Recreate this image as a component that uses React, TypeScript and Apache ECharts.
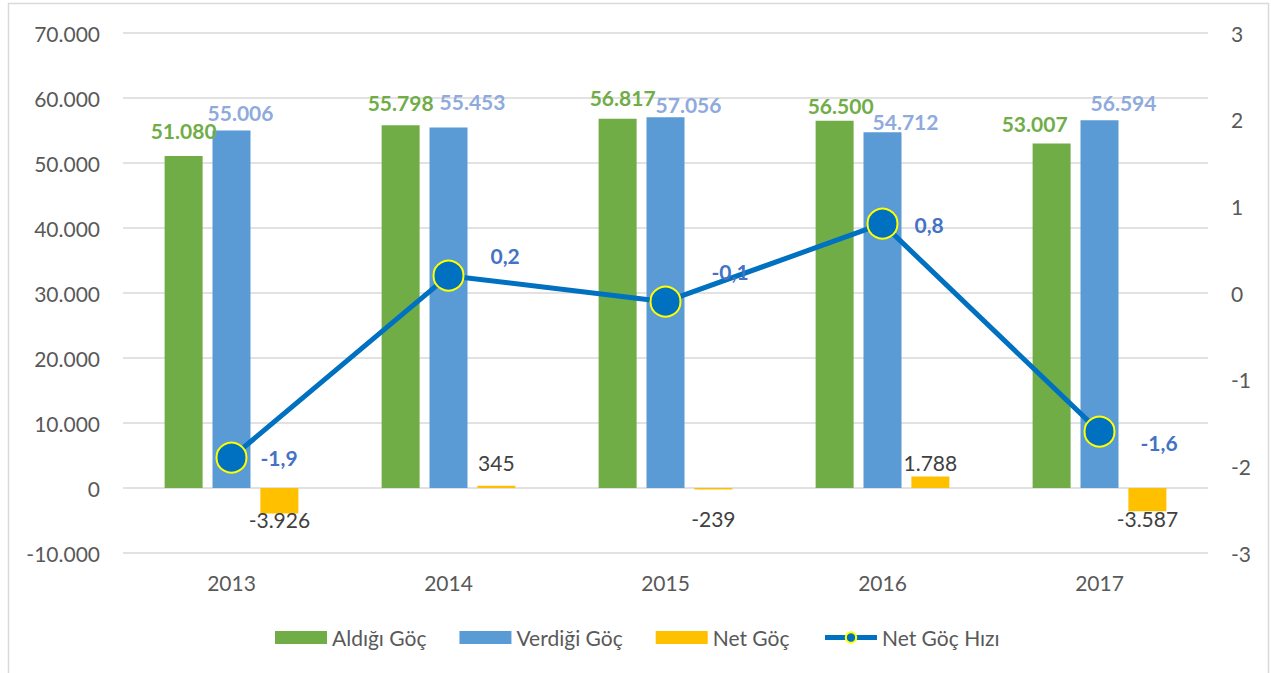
import React, { useEffect, useRef } from "react";
import * as echarts from "echarts";

const years = ["2013", "2014", "2015", "2016", "2017"];
const aldigiGoc = [51080, 55798, 56817, 56500, 53007];
const verdigiGoc = [55006, 55453, 57056, 54712, 56594];
const netGoc = [-3926, 345, -239, 1788, -3587];
const netGocHizi = [-1.9, 0.2, -0.1, 0.8, -1.6];

// label nudges (layout only)
const greenOffsets = [[0, -10], [0, -7], [5, -6], [6, 0], [-17, -4]];
const blueOffsets = [[9, -2], [24, -11], [23, 3], [23, 5], [24, -2]];
const netOffsets = [[0, -10], [0, -8], [0, 13], [0, 2], [0, -8]];
const lineOffsets = [[8, 0], [21, -20], [25, -30], [11, 1], [20, 11]];

const FONT = "Lato";

function fmtInt(v: number): string {
  const s = Math.abs(Math.round(v)).toString().replace(/\B(?=(\d{3})+(?!\d))/g, ".");
  return (v < 0 ? "-" : "") + s;
}
function fmtDec(v: number): string {
  return v.toFixed(1).replace(".", ",");
}

export default function App() {
  const ref = useRef<HTMLDivElement>(null);
  useEffect(() => {
    if (!ref.current) return;
    const chart = echarts.init(ref.current, null, { renderer: "svg" });
    const option: any = {
      animation: false,
      backgroundColor: "#ffffff",
      textStyle: { fontFamily: FONT },
      graphic: [
        {
          type: "rect",
          shape: { x: 8.5, y: 3.5, width: 1260, height: 690 },
          style: { fill: "none", stroke: "#D9D9D9", lineWidth: 1.5 },
          silent: true,
        },
      ],
      grid: { left: 123, right: 63, top: 33, bottom: 120 },
      legend: {
        left: 270,
        top: 622,
        itemWidth: 52,
        itemHeight: 13,
        itemGap: 33,
        textStyle: { fontFamily: FONT, fontSize: 21, color: "#595959" },
        data: [
          { name: "Aldığı Göç", icon: "rect" },
          { name: "Verdiği Göç", icon: "rect" },
          { name: "Net Göç", icon: "rect" },
          {
            name: "Net Göç Hızı",
            lineStyle: { width: 5, color: "#0070C0" },
            itemStyle: { color: "#0070C0", borderColor: "#FFFF00", borderWidth: 2 },
          },
        ],
      },
      xAxis: {
        type: "category",
        data: years,
        axisLine: { show: false },
        axisTick: { show: false },
        axisLabel: { color: "#595959", fontSize: 21, fontFamily: FONT, margin: 19 },
      },
      yAxis: [
        {
          type: "value",
          min: -10000,
          max: 70000,
          interval: 10000,
          axisLine: { show: false },
          axisTick: { show: false },
          axisLabel: {
            color: "#595959",
            fontSize: 21,
            fontFamily: FONT,
            margin: 23,
            formatter: (v: number) => fmtInt(v),
          },
          splitLine: { lineStyle: { color: "#D9D9D9", width: 1.5 } },
        },
        {
          type: "value",
          min: -3,
          max: 3,
          interval: 1,
          axisLine: { show: false },
          axisTick: { show: false },
          axisLabel: { color: "#595959", fontSize: 21, fontFamily: FONT, margin: 23 },
          splitLine: { show: false },
        },
      ],
      series: [
        {
          name: "Aldığı Göç",
          type: "bar",
          barWidth: 38,
          barGap: "26%",
          itemStyle: { color: "#70AD47" },
          data: aldigiGoc.map((v, i) => ({
            value: v,
            label: { offset: greenOffsets[i] },
          })),
          label: {
            show: true,
            position: "top",
            color: "#70AD47",
            fontWeight: "bold",
            fontSize: 21,
            fontFamily: FONT,
            formatter: (p: any) => fmtInt(p.value),
          },
        },
        {
          name: "Verdiği Göç",
          type: "bar",
          barWidth: 38,
          barGap: "26%",
          itemStyle: { color: "#5B9BD5" },
          data: verdigiGoc.map((v, i) => ({
            value: v,
            label: { offset: blueOffsets[i] },
          })),
          label: {
            show: true,
            position: "top",
            color: "#8FAADC",
            fontWeight: "bold",
            fontSize: 21,
            fontFamily: FONT,
            formatter: (p: any) => fmtInt(p.value),
          },
        },
        {
          name: "Net Göç",
          type: "bar",
          barWidth: 38,
          barGap: "26%",
          itemStyle: { color: "#FFC000" },
          data: netGoc.map((v, i) => ({
            value: v,
            label: { position: v < 0 ? "bottom" : "top", offset: netOffsets[i] },
          })),
          label: {
            show: true,
            color: "#404040",
            fontSize: 21,
            fontFamily: FONT,
            formatter: (p: any) => fmtInt(p.value),
          },
        },
        {
          name: "Net Göç Hızı",
          type: "line",
          yAxisIndex: 1,
          z: 5,
          symbol: "circle",
          symbolSize: 30,
          lineStyle: { color: "#0070C0", width: 5 },
          itemStyle: { color: "#0070C0", borderColor: "#FFFF00", borderWidth: 2 },
          data: netGocHizi.map((v, i) => ({
            value: v,
            label: { offset: lineOffsets[i] },
          })),
          label: {
            show: true,
            position: "right",
            color: "#4472C4",
            fontWeight: "bold",
            fontSize: 21,
            fontFamily: FONT,
            formatter: (p: any) => fmtDec(p.value),
          },
        },
      ],
    };
    chart.setOption(option);
    return () => chart.dispose();
  }, []);
  return (
    <div
      ref={ref}
      style={{ position: "fixed", left: 0, top: 0, width: 1271, height: 673 }}
    />
  );
}
